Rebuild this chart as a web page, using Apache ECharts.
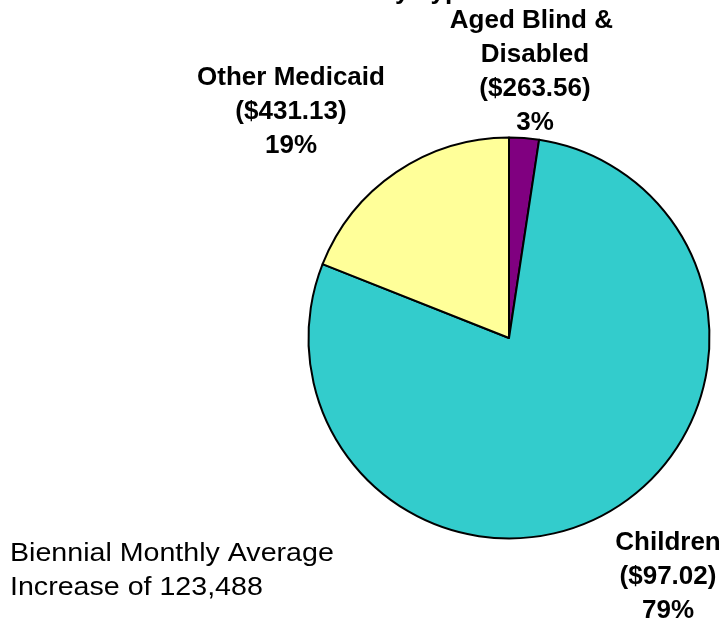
<!DOCTYPE html>
<html>
<head>
<meta charset="utf-8">
<script src="https://cdn.jsdelivr.net/npm/echarts@6/dist/echarts.min.js"></script>
<style>
  html, body { margin: 0; padding: 0; background: #fff; }
  #chart { width: 724px; height: 624px; }
</style>
</head>
<body>
<div id="chart"></div>
<script>
// slices, clockwise from 12 o'clock
const categories = ['Aged Blind & Disabled', 'Children', 'Other Medicaid']
const shares = [2.4, 78.6, 19.0]
const costs = ['$263.56', '$97.02', '$431.13']
const pctLabels = ['3%', '79%', '19%']
const sliceColors = ['#800080', '#33CCCC', '#FFFF99']

// where each label block sits (center of block)
const labelPos = [[535, 72], [668, 577], [291, 112]]
const labelWidth = [180, 200, 220]

const chart = echarts.init(document.getElementById('chart'))

const option = {
  animation: false,
  backgroundColor: '#fff',
  graphic: [
    {
      // title is cut off at the top edge, only descenders show
      type: 'text',
      x: 379,
      y: -21,
      style: {
        text: 'by Type',
        font: 'bold 26px "Liberation Sans", Arial, sans-serif',
        fill: '#000'
      }
    },
    {
      type: 'text',
      x: 10,
      y: 537,
      scaleX: 1.1,
      style: {
        text: 'Biennial Monthly Average\nIncrease of 123,488',
        font: '26px "Liberation Sans", Arial, sans-serif',
        lineHeight: 34,
        fill: '#000'
      }
    }
  ],
  series: [
    {
      type: 'pie',
      center: [509, 338],
      radius: 200.5,
      startAngle: 90,
      clockwise: true,
      avoidLabelOverlap: false,
      itemStyle: {
        borderColor: '#000',
        borderWidth: 2
      },
      emphasis: { disabled: true },
      labelLine: { show: false },
      label: {
        show: true,
        position: 'outside',
        color: '#000',
        fontFamily: '"Liberation Sans", Arial, sans-serif',
        fontWeight: 'bold',
        fontSize: 26,
        lineHeight: 34,
        align: 'center',
        overflow: 'break',
        formatter: p => p.name + '\n(' + costs[p.dataIndex] + ')\n' + pctLabels[p.dataIndex]
      },
      labelLayout: params => ({
        x: labelPos[params.dataIndex][0],
        y: labelPos[params.dataIndex][1],
        align: 'center',
        verticalAlign: 'middle'
      }),
      data: categories.map((name, i) => ({
        name: name,
        value: shares[i],
        itemStyle: { color: sliceColors[i] },
        label: { width: labelWidth[i] }
      }))
    }
  ]
}

chart.setOption(option)
</script>
</body>
</html>
